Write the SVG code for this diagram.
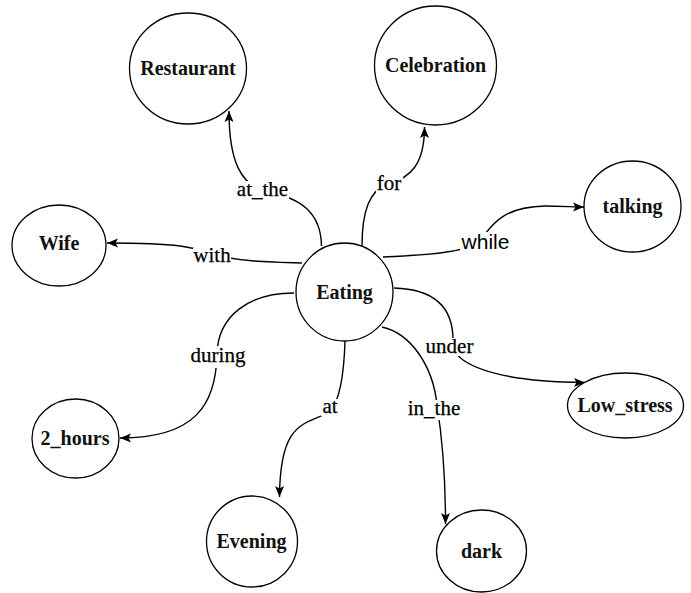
<svg xmlns="http://www.w3.org/2000/svg" width="691" height="593" viewBox="0 0 691 593">
<defs>
<style>
.node{fill:#fff;stroke:#000;stroke-width:1.3}
.nt{font-family:"Liberation Serif","Times New Roman",serif;font-size:20px;font-weight:bold;fill:#111;text-anchor:middle}
.edge{fill:none;stroke:#000;stroke-width:1.4}
.el{font-family:"Liberation Serif","Times New Roman",serif;font-size:21px;fill:#000;stroke:#000;stroke-width:0.25;text-anchor:middle}
.els{font-family:"Liberation Sans",Arial,sans-serif;font-size:21px;fill:#000;text-anchor:middle}
.bg{fill:#fff}
</style>
<marker id="arr" viewBox="0 0 13 11" refX="12" refY="5.5" markerWidth="13" markerHeight="11" markerUnits="userSpaceOnUse" orient="auto">
<path d="M1,1 L12,5.5 L1,10 L3.5,5.5 Z" fill="#000"/>
</marker>
</defs>
<rect width="691" height="593" fill="#fff"/>
<g id="connectors">
<path class="edge" d="M321.5,246 C321,212 300,198 268,192 C240,186 229,160 229,111" marker-end="url(#arr)"/>
<path class="edge" d="M362,246 C362,210 370,190 388,184 C410,178 424.5,165 424.5,127" marker-end="url(#arr)"/>
<path class="edge" d="M383,257 C430,255 462,252 476,244 C488,236 492,207 545,206 C560,206 575,207 584,207" marker-end="url(#arr)"/>
<path class="edge" d="M302,263 C265,262 235,261 212,254 C195,248 185,243 107,243" marker-end="url(#arr)"/>
<path class="edge" d="M294,293 C250,293 218,315 217,354 C216,405 195,438 120,438" marker-end="url(#arr)"/>
<path class="edge" d="M345,341 C344,375 340,400 330,412 C305,425 280,420 279.5,497" marker-end="url(#arr)"/>
<path class="edge" d="M382,327 C410,333 433,365 437,405 C441,430 445.5,470 445.5,524" marker-end="url(#arr)"/>
<path class="edge" d="M394,288 C432,289 453,305 453,340 C453,348 456,355 463,360 C485,375 530,382 585,382.5" marker-end="url(#arr)"/>
<rect class="bg" x="236" y="181" width="53" height="19"/>
<text class="el" x="262.5" y="196">at_the</text>
<rect class="bg" x="376" y="175" width="27" height="18"/>
<text class="el" x="389" y="190">for</text>
<rect class="bg" x="460" y="232" width="51" height="20"/>
<text class="els" x="485.5" y="249">while</text>
<rect class="bg" x="193" y="248" width="38" height="17"/>
<text class="el" x="212" y="262">with</text>
<rect class="bg" x="189" y="346" width="58" height="22"/>
<text class="el" x="218" y="362">during</text>
<rect class="bg" x="424" y="338" width="52" height="18"/>
<text class="el" x="449.5" y="353">under</text>
<rect class="bg" x="321" y="399" width="18" height="17"/>
<text class="el" x="330" y="413">at</text>
<rect class="bg" x="407" y="400" width="54" height="20"/>
<text class="el" x="434" y="415">in_the</text>
</g>
<g id="node-restaurant"><ellipse class="node" cx="188" cy="68.5" rx="58.5" ry="55.5"/><text class="nt" x="188" y="75">Restaurant</text></g>
<g id="node-celebration"><ellipse class="node" cx="435.5" cy="65.5" rx="61" ry="59.5"/><text class="nt" x="435.5" y="72">Celebration</text></g>
<g id="node-talking"><ellipse class="node" cx="632.5" cy="206.5" rx="48.5" ry="45.5"/><text class="nt" x="632.5" y="213">talking</text></g>
<g id="node-wife"><ellipse class="node" cx="59" cy="245.5" rx="47" ry="40.5"/><text class="nt" x="59" y="250">Wife</text></g>
<g id="node-eating"><ellipse class="node" cx="344.5" cy="292" rx="48.5" ry="49"/><text class="nt" x="344.5" y="298.5">Eating</text></g>
<g id="node-2hours"><ellipse class="node" cx="75.5" cy="438.5" rx="43.5" ry="39.5"/><text class="nt" x="75" y="445">2_hours</text></g>
<g id="node-lowstress"><ellipse class="node" cx="625.5" cy="405.5" rx="58" ry="32.5"/><text class="nt" x="625" y="412">Low_stress</text></g>
<g id="node-evening"><ellipse class="node" cx="252" cy="541.5" rx="45.5" ry="45.5"/><text class="nt" x="251.5" y="548">Evening</text></g>
<g id="node-dark"><ellipse class="node" cx="481.5" cy="551" rx="45" ry="41"/><text class="nt" x="481.5" y="558">dark</text></g>
</svg>
